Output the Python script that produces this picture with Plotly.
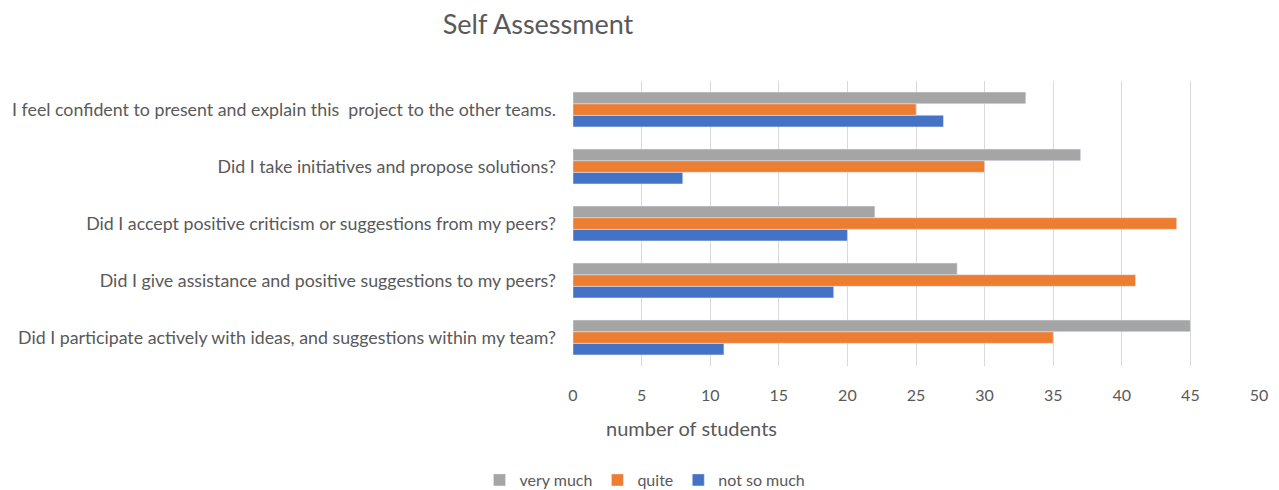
import plotly.graph_objects as go

categories = [
    "Did I participate actively with ideas, and suggestions within my team?",
    "Did I give assistance and positive suggestions to my peers?",
    "Did I accept positive criticism or suggestions from my peers?",
    "Did I take initiatives and propose solutions?",
    "I feel confident to present and explain this  project to the other teams.",
]
not_so_much = [11, 19, 20, 8, 27]
quite = [35, 41, 44, 30, 25]
very_much = [45, 28, 22, 37, 33]
x_ticks = [0, 5, 10, 15, 20, 25, 30, 35, 40, 45, 50]

FONT = "Lato"
TXT = "#595959"

fig = go.Figure()
fig.add_trace(go.Bar(y=categories, x=not_so_much, name="not so much", orientation="h",
                     marker_color="#4472C4"))
fig.add_trace(go.Bar(y=categories, x=quite, name="quite", orientation="h",
                     marker_color="#ED7D31"))
fig.add_trace(go.Bar(y=categories, x=very_much, name="very much", orientation="h",
                     marker_color="#A5A5A5"))

fig.update_layout(
    width=1279, height=490,
    margin=dict(l=573, r=20, t=81, b=124, autoexpand=False),
    paper_bgcolor="white", plot_bgcolor="white",
    barmode="group", bargap=0.39, bargroupgap=0,
    font=dict(family=FONT, color=TXT, size=17),
    title=dict(text="Self Assessment", x=538/1279, xanchor="center", y=1-25/490, yanchor="middle",
               font=dict(size=27, family=FONT, color=TXT)),
    showlegend=True,
    legend=dict(orientation="h", traceorder="reversed", x=645/1279, xref="container", xanchor="center",
                y=1-480/490, yref="container", yanchor="middle", font=dict(size=16, color=TXT),
                itemwidth=30, tracegroupgap=0),
    xaxis=dict(range=[0, 50], tickvals=x_ticks, showgrid=True, gridcolor="#D9D9D9", gridwidth=1,
               zeroline=False, showline=False, ticks="", tickfont=dict(size=16, color=TXT),
               ticklabelstandoff=18, automargin=False),
    yaxis=dict(showgrid=False, showline=False, ticks="", tickfont=dict(size=17.8, color=TXT),
               ticklabelstandoff=16, automargin=False),
)
fig.add_annotation(text="number of students", xref="paper", yref="paper",
                   x=(691-573)/686, y=-(428-366)/285, xanchor="center", yanchor="middle",
                   showarrow=False, font=dict(size=20, color=TXT, family=FONT))
fig.write_html("out.html")
